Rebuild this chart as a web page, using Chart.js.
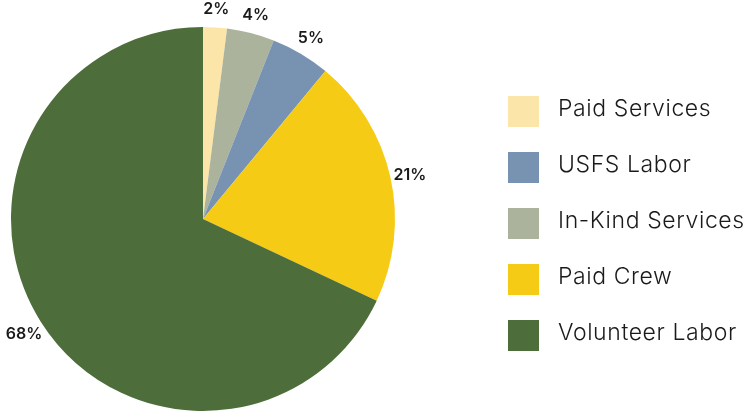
<!DOCTYPE html>
<html>
<head>
<meta charset="utf-8">
<script src="https://cdn.jsdelivr.net/npm/chart.js@4.4.1/dist/chart.umd.min.js"></script>
<style>
  html, body { margin: 0; padding: 0; background: #fff; }
  #wrap { width: 748px; height: 412px; position: relative; }
</style>
</head>
<body>
<div id="wrap"><canvas id="costPie"></canvas></div>
<script>
// slices in pie order (clockwise from 12 o'clock)
var categories = ['Paid Services', 'In-Kind Services', 'USFS Labor', 'Paid Crew', 'Volunteer Labor'];
var shares = [2, 4, 5, 21, 68];
var colors = ['#FCE5A8', '#ABB39C', '#7893B2', '#F6CB15', '#4D6E3A'];
// legend order
var legendOrder = ['Paid Services', 'USFS Labor', 'In-Kind Services', 'Paid Crew', 'Volunteer Labor'];

// percent labels just outside each slice
var outsideLabels = {
  id: 'outsideLabels',
  afterDatasetsDraw: function (chart) {
    var ctx = chart.ctx;
    var meta = chart.getDatasetMeta(0);
    ctx.save();
    ctx.font = '600 16px Inter, "Open Sans", sans-serif';
    ctx.fillStyle = '#1a1a1a';
    ctx.textAlign = 'center';
    ctx.textBaseline = 'middle';
    meta.data.forEach(function (arc, i) {
      var p = arc.getProps(['x', 'y', 'startAngle', 'endAngle', 'outerRadius'], true);
      var mid = (p.startAngle + p.endAngle) / 2;
      var r = p.outerRadius + 20;
      ctx.fillText(shares[i] + '%', p.x + Math.cos(mid) * r, p.y + Math.sin(mid) * r + 2);
    });
    ctx.restore();
  }
};

// square-box legend on the right
var sideLegend = {
  id: 'sideLegend',
  afterDraw: function (chart) {
    var ctx = chart.ctx;
    var box = 31, step = 56, left = 508, top = 96;
    ctx.save();
    ctx.font = '300 23px Inter, "Open Sans", sans-serif';
    ctx.letterSpacing = '0.6px';
    ctx.textBaseline = 'middle';
    ctx.textAlign = 'left';
    legendOrder.forEach(function (name, k) {
      var idx = categories.indexOf(name);
      var y = top + k * step;
      ctx.fillStyle = colors[idx];
      ctx.fillRect(left, y, box, box);
      ctx.fillStyle = '#1a1a1a';
      ctx.fillText(name, left + box + 19, y + box / 2 - 2);
    });
    ctx.restore();
  }
};

new Chart(document.getElementById('costPie'), {
  type: 'pie',
  data: {
    labels: categories,
    datasets: [{
      data: shares,
      backgroundColor: colors,
      borderWidth: 0
    }]
  },
  options: {
    responsive: true,
    maintainAspectRatio: false,
    animation: false,
    layout: { padding: { left: 11, top: 27, bottom: 1, right: 353 } },
    plugins: {
      legend: { display: false },
      tooltip: { enabled: false }
    }
  },
  plugins: [outsideLabels, sideLegend]
});
</script>
</body>
</html>
